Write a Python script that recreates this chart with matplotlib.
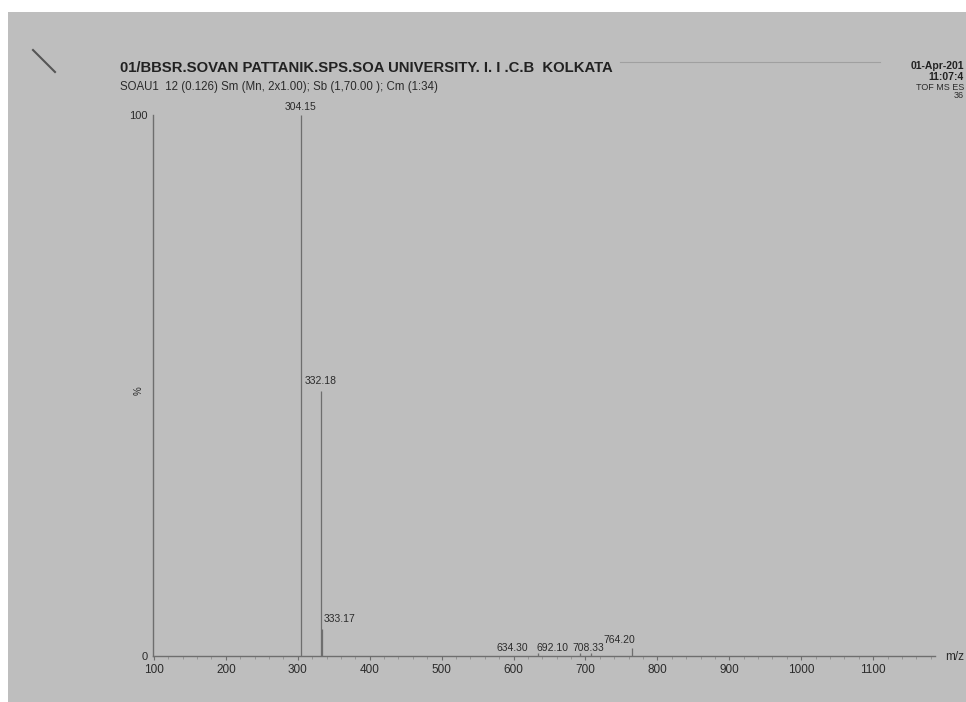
import matplotlib
matplotlib.use("Agg")
import matplotlib.pyplot as plt
from matplotlib.patches import Rectangle
from matplotlib.lines import Line2D

# ピークデータ (m/z, 相対強度 %)
peak_mz = [304.15, 332.18, 333.17, 634.30, 692.10, 708.33, 764.20]
peak_int = [100.0, 49.0, 5.0, 0.6, 0.6, 0.6, 1.5]
peak_labels = ["304.15", "332.18", "333.17", "634.30", "692.10", "708.33", "764.20"]
x_ticks = [100, 200, 300, 400, 500, 600, 700, 800, 900, 1000, 1100]

title = "01/BBSR.SOVAN PATTANIK.SPS.SOA UNIVERSITY. I. I .C.B  KOLKATA"
subtitle = "SOAU1  12 (0.126) Sm (Mn, 2x1.00); Sb (1,70.00 ); Cm (1:34)"
right_info = ["01-Apr-201", "11:07:4", "TOF MS ES", "36"]

# ラベルのずらし (pixel)
label_dx = [0, 0, 18, -26, -27, -3, -12]
label_dy = [3, 5, 5, 0, 0, 0, 3]

W, H = 966, 702
paper = "#bebebe"
ink = "#2b2b2b"
line_c = "#6e6e6e"

plt.rcParams["font.family"] = ["Liberation Sans", "DejaVu Sans"]

fig = plt.figure(figsize=(W / 100, H / 100), dpi=100)
fig.patch.set_facecolor("white")
# スキャンされた紙
fig.patches.append(Rectangle((8 / W, 0), 1, 1 - 12 / H, transform=fig.transFigure,
                             facecolor=paper, edgecolor="none", zorder=-10))
# 左上のペンの跡
fig.lines.append(Line2D([33 / W, 55 / W], [1 - 50 / H, 1 - 72 / H], transform=fig.transFigure,
                        color="#555555", lw=1.5))
# ヘッダの線
fig.lines.append(Line2D([620 / W, 880 / W], [1 - 62 / H, 1 - 62 / H], transform=fig.transFigure,
                        color="#a0a0a0", lw=0.8))

ax = fig.add_axes([153 / W, 46 / H, (935 - 153) / W, (656 - 115) / H])
ax.set_facecolor("none")

ax.vlines(peak_mz, 0, peak_int, color=line_c, lw=0.9)
for mz, h, lab, dx, dy in zip(peak_mz, peak_int, peak_labels, label_dx, label_dy):
    ax.annotate(lab, (mz, h), xytext=(dx, dy), textcoords="offset pixels",
                ha="center", va="bottom", fontsize=7.5, color=ink, annotation_clip=False)

ax.set_xlim(98.7, 1186)
ax.set_ylim(0, 100)
ax.set_xticks(x_ticks)
ax.set_xticks(range(100, 1181, 20), minor=True)
ax.set_yticks([0, 100])
ax.set_yticklabels(["0", "100"])

for s in ["top", "right"]:
    ax.spines[s].set_visible(False)
for s in ["left", "bottom"]:
    ax.spines[s].set_color(line_c)
    ax.spines[s].set_linewidth(1.0)

ax.tick_params(axis="x", which="major", length=3, width=0.8, color=line_c,
               labelsize=8.5, labelcolor=ink, pad=3)
ax.tick_params(axis="x", which="minor", length=2, width=0.6, color="#8f8f8f")
ax.tick_params(axis="y", length=0, labelsize=8, labelcolor=ink, pad=4)

ax.text(-0.018, 0.49, "%", transform=ax.transAxes, rotation=90,
        ha="center", va="center", fontsize=7, color=ink)
fig.text(964 / W, 1 - 657 / H, "m/z", ha="right", va="center", fontsize=8.5, color=ink)

fig.text(120 / W, 1 - 68 / H, title, ha="left", va="center", fontsize=10.7,
         fontweight="bold", color="#222222")
fig.text(120 / W, 1 - 87 / H, subtitle, ha="left", va="center", fontsize=8.3, color=ink)

fig.text(964 / W, 1 - 66 / H, right_info[0], ha="right", va="center", fontsize=7.5,
         fontweight="bold", color="#222222")
fig.text(964 / W, 1 - 77 / H, right_info[1], ha="right", va="center", fontsize=7.5,
         fontweight="bold", color="#222222")
fig.text(964 / W, 1 - 87 / H, right_info[2], ha="right", va="center", fontsize=6.5, color=ink)
fig.text(964 / W, 1 - 96 / H, right_info[3], ha="right", va="center", fontsize=6.5, color=ink)

fig.savefig("out.png", dpi=100, facecolor=fig.get_facecolor())
